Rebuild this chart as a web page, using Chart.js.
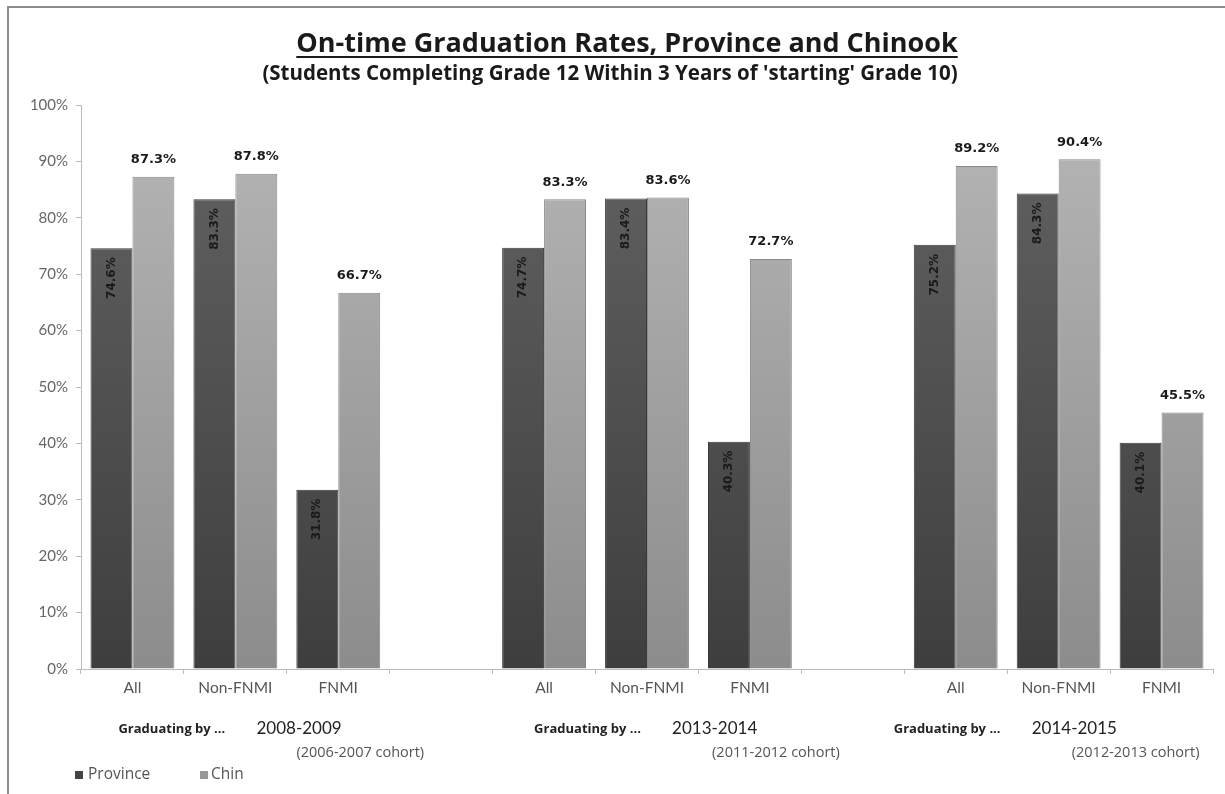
<!DOCTYPE html>
<html>
<head>
<meta charset="utf-8">
<script src="https://cdn.jsdelivr.net/npm/chart.js@4"></script>
<style>
  html, body { margin: 0; padding: 0; background: #fff; }
  #wrap { width: 1225px; height: 794px; position: relative; }
</style>
</head>
<body>
<div id="wrap"><canvas id="grafico"></canvas></div>
<script>
// Dados
const categorias = ['All', 'Non-FNMI', 'FNMI', '', 'All', 'Non-FNMI', 'FNMI', '', 'All', 'Non-FNMI', 'FNMI'];
const provincia = [74.6, 83.3, 31.8, null, 74.7, 83.4, 40.3, null, 75.2, 84.3, 40.1];
const chinook = [87.3, 87.8, 66.7, null, 83.3, 83.6, 72.7, null, 89.2, 90.4, 45.5];
const anos = ['2008-2009', '2013-2014', '2014-2015'];
const coortes = ['(2006-2007 cohort)', '(2011-2012 cohort)', '(2012-2013 cohort)'];
const inicioGrupo = [0, 4, 8];
const titulo = 'On-time Graduation Rates, Province and Chinook';
const subtitulo = "(Students Completing Grade 12 Within 3 Years of 'starting' Grade 10)";

function gradiente(chart, topo, base) {
    const area = chart.chartArea;
    if (!area) return base;
    const g = chart.ctx.createLinearGradient(0, area.top, 0, area.bottom);
    g.addColorStop(0, topo);
    g.addColorStop(1, base);
    return g;
}

// Desenho extra: moldura, títulos, rótulos, anotações e legenda
const extras = {
    id: 'extras',
    beforeDraw(chart) {
        const c = chart.ctx;
        c.save();
        c.fillStyle = '#fff';
        c.fillRect(0, 0, chart.width, chart.height);
        c.strokeStyle = '#8c8c8c';
        c.lineWidth = 2;
        c.beginPath();
        c.moveTo(8, chart.height);
        c.lineTo(8, 7);
        c.lineTo(chart.width, 7);
        c.stroke();

        c.fillStyle = '#1a1a1a';
        c.textAlign = 'center';
        c.textBaseline = 'alphabetic';
        c.font = 'bold 27px "Open Sans"';
        c.fillText(titulo, 627, 52);
        const w = c.measureText(titulo).width;
        c.fillRect(627 - w / 2, 56, w, 2);
        c.font = 'bold 20.5px "Open Sans"';
        c.fillText(subtitulo, 610, 80);
        c.restore();
    },
    afterDatasetsDraw(chart) {
        const c = chart.ctx;
        c.save();
        c.fillStyle = '#1a1a1a';

        c.font = 'bold 12px "DejaVu Sans"';
        chart.getDatasetMeta(0).data.forEach((bar, i) => {
            if (provincia[i] == null) return;
            c.save();
            c.translate(bar.x, bar.y + 9);
            c.rotate(-Math.PI / 2);
            c.textAlign = 'right';
            c.textBaseline = 'middle';
            c.fillText(provincia[i].toFixed(1) + '%', 0, 0);
            c.restore();
        });
        c.font = 'bold 13px "DejaVu Sans"';
        chart.getDatasetMeta(1).data.forEach((bar, i) => {
            if (chinook[i] == null) return;
            c.textAlign = 'center';
            c.textBaseline = 'middle';
            c.fillText(chinook[i].toFixed(1) + '%', bar.x, bar.y - 17);
        });

        const x = chart.scales.x;
        const deslocamentos = [-14, -10, -62];
        inicioGrupo.forEach((idx, g) => {
            const px = x.getPixelForValue(idx) + deslocamentos[g];
            c.textAlign = 'left';
            c.textBaseline = 'middle';
            c.fillStyle = '#222';
            c.font = 'bold 13px "Open Sans"';
            c.fillText('Graduating by ...', px, 729);
            c.font = '17px Lato';
            c.fillText(anos[g], px + 138, 729);
            c.fillStyle = '#555';
            c.font = '14.5px "Open Sans"';
            c.fillText(coortes[g], px + 178, 753);
        });

        // legenda
        c.fillStyle = '#444';
        c.fillRect(75, 771, 8, 8);
        c.fillStyle = '#999';
        c.fillRect(200, 771, 8, 8);
        c.font = '15.5px "Open Sans"';
        c.fillStyle = '#555';
        c.textAlign = 'left';
        c.textBaseline = 'middle';
        c.fillText('Province', 88, 775);
        c.fillText('Chin', 211, 775);
        c.restore();
    }
};

const grafico = new Chart(document.getElementById('grafico'), {
    type: 'bar',
    data: {
        labels: categorias,
        datasets: [
            {
                label: 'Province',
                data: provincia,
                backgroundColor: ctx => gradiente(ctx.chart, '#636363', '#3e3e3e'),
                borderColor: '#3a3a3a',
                borderWidth: 1
            },
            {
                label: 'Chin',
                data: chinook,
                backgroundColor: ctx => gradiente(ctx.chart, '#b6b6b6', '#8c8c8c'),
                borderColor: '#888',
                borderWidth: 1
            }
        ]
    },
    options: {
        responsive: true,
        maintainAspectRatio: false,
        animation: false,
        layout: { padding: { top: 105, right: 12, left: 10, bottom: 0 } },
        datasets: { bar: { categoryPercentage: 0.815, barPercentage: 1 } },
        plugins: {
            legend: { display: false },
            tooltip: { enabled: false }
        },
        scales: {
            x: {
                grid: { drawOnChartArea: false, tickLength: 5, color: '#bbb' },
                border: { color: '#bbb' },
                ticks: { color: '#555', font: { family: 'Lato', size: 15.5 }, padding: 5, maxRotation: 0, autoSkip: false },
                afterFit: s => { s.height = 125; }
            },
            y: {
                min: 0,
                max: 100,
                grid: { drawOnChartArea: false, tickLength: 5, color: '#bbb' },
                border: { color: '#bbb' },
                ticks: { stepSize: 10, color: '#666', font: { family: 'Lato', size: 15 }, padding: 8, callback: v => v + '%' },
                afterFit: s => { s.width = 71; }
            }
        }
    },
    plugins: [extras]
});
</script>
</body>
</html>
